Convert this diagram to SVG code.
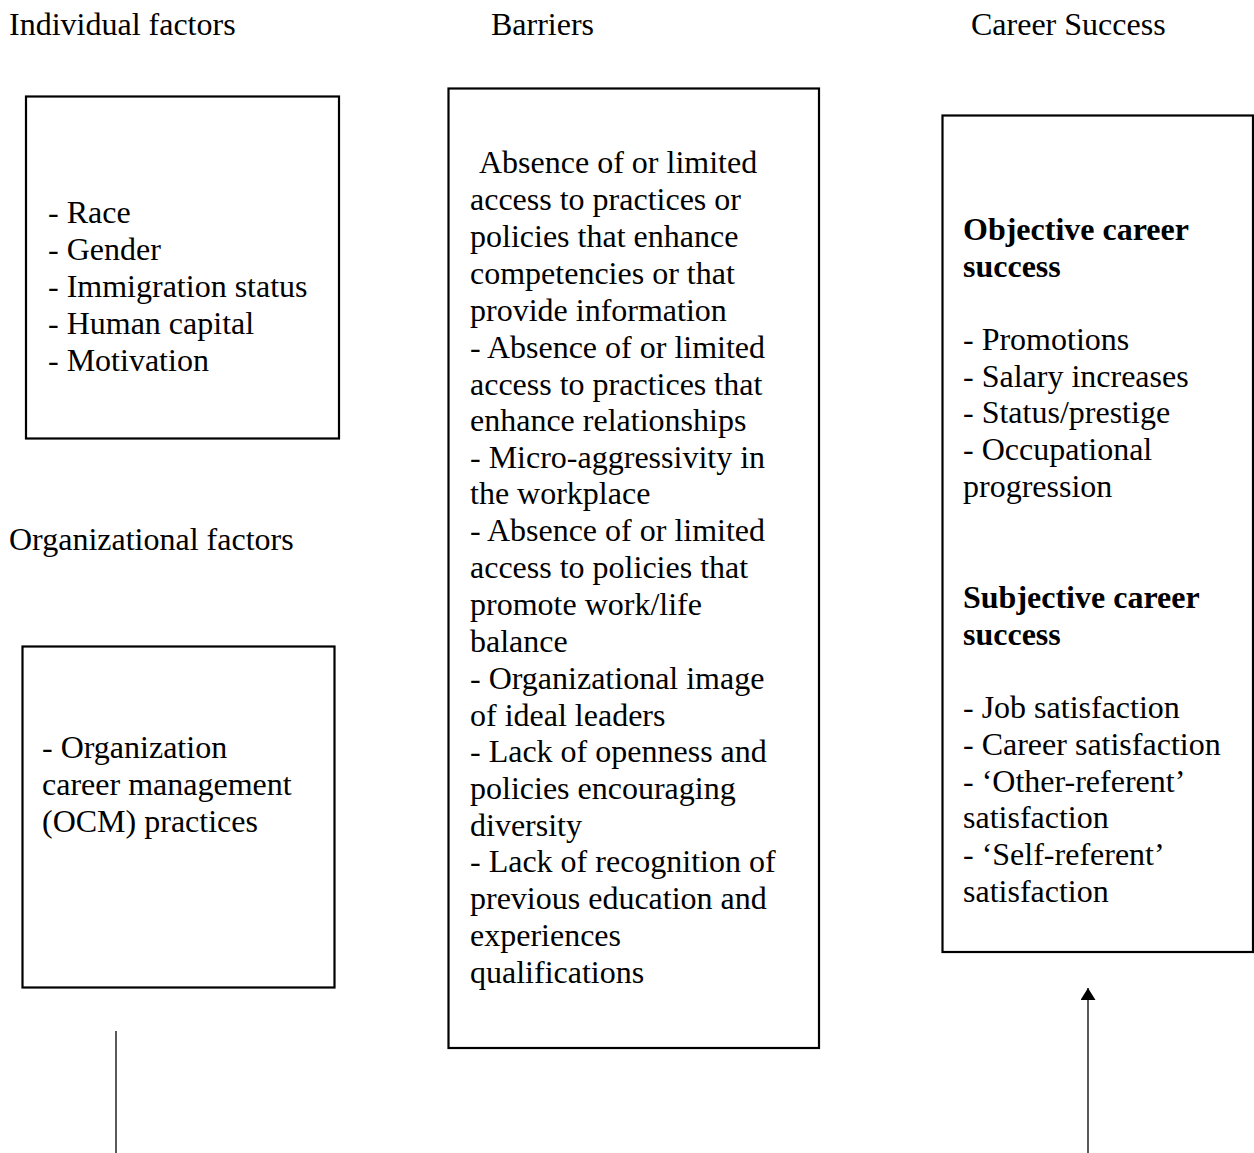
<svg xmlns="http://www.w3.org/2000/svg" width="1254" height="1153" viewBox="0 0 1254 1153" font-family="'Liberation Serif', 'Times New Roman', Tinos, serif" font-size="32">
<style>
.b{font-weight:bold}
.box{fill:#fff;stroke:#000;stroke-width:2.2}
.conn{stroke:#000;stroke-width:1.3;fill:none}
</style>
<defs>
<marker id="ah" markerWidth="12" markerHeight="15" refX="12" refY="7.5" orient="auto" markerUnits="userSpaceOnUse" viewBox="0 0 12 15">
<path d="M0,0 L12,7.5 L0,15 Z" fill="#000"/>
</marker>
</defs>
<rect width="1254" height="1153" fill="#fff"/>
<g id="headers">
<text x="9" y="35">Individual factors</text>
<text x="491" y="35">Barriers</text>
<text x="971" y="35">Career Success</text>
<text x="9" y="550">Organizational factors</text>
</g>
<g id="individual">
<rect class="box" x="26" y="96.5" width="313" height="342"/>
<text x="48" y="223">- Race</text>
<text x="48" y="260">- Gender</text>
<text x="48" y="297">- Immigration status</text>
<text x="48" y="334">- Human capital</text>
<text x="48" y="371">- Motivation</text>
</g>
<g id="organizational">
<rect class="box" x="22.5" y="646.5" width="312" height="341"/>
<text x="42" y="758">- Organization</text>
<text x="42" y="795">career management</text>
<text x="42" y="832">(OCM) practices</text>
</g>
<g id="barriers">
<rect class="box" x="448.5" y="88.5" width="370.5" height="959.5"/>
<text x="479" y="173">Absence of or limited</text>
<text x="470" y="210">access to practices or</text>
<text x="470" y="247">policies that enhance</text>
<text x="470" y="284">competencies or that</text>
<text x="470" y="321">provide information</text>
<text x="470" y="358">- Absence of or limited</text>
<text x="470" y="395">access to practices that</text>
<text x="470" y="431">enhance relationships</text>
<text x="470" y="468">- Micro-aggressivity in</text>
<text x="470" y="504">the workplace</text>
<text x="470" y="541">- Absence of or limited</text>
<text x="470" y="578">access to policies that</text>
<text x="470" y="615">promote work/life</text>
<text x="470" y="652">balance</text>
<text x="470" y="689">- Organizational image</text>
<text x="470" y="726">of ideal leaders</text>
<text x="470" y="762">- Lack of openness and</text>
<text x="470" y="799">policies encouraging</text>
<text x="470" y="836">diversity</text>
<text x="470" y="872">- Lack of recognition of</text>
<text x="470" y="909">previous education and</text>
<text x="470" y="946">experiences</text>
<text x="470" y="983">qualifications</text>
</g>
<g id="career">
<rect class="box" x="942.5" y="115.5" width="310.5" height="836.5"/>
<text class="b" x="963" y="240">Objective career</text>
<text class="b" x="963" y="277">success</text>
<text x="963" y="350">- Promotions</text>
<text x="963" y="387">- Salary increases</text>
<text x="963" y="423">- Status/prestige</text>
<text x="963" y="460">- Occupational</text>
<text x="963" y="497">progression</text>
<text class="b" x="963" y="608">Subjective career</text>
<text class="b" x="963" y="645">success</text>
<text x="963" y="718">- Job satisfaction</text>
<text x="963" y="755">- Career satisfaction</text>
<text x="963" y="792">- ‘Other-referent’</text>
<text x="963" y="828">satisfaction</text>
<text x="963" y="865">- ‘Self-referent’</text>
<text x="963" y="902">satisfaction</text>
</g>
<g id="connectors">
<line class="conn" x1="116" y1="1031" x2="116" y2="1153"/>
<line class="conn" x1="1088" y1="1153" x2="1088" y2="988" marker-end="url(#ah)"/>
</g>
</svg>
